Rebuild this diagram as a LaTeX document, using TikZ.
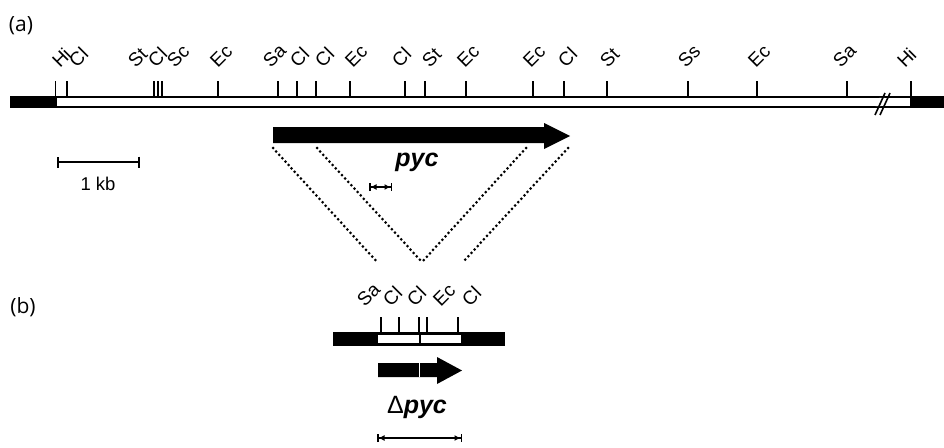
\documentclass[tikz,border=0pt]{standalone}
\usepackage{fontspec}
\setmainfont{Liberation Sans}
\newfontfamily\panelfont{Open Sans}
\usetikzlibrary{arrows.meta}
\begin{document}
\begin{tikzpicture}[x=1pt,y=-1pt,
  site/.style={font=\fontsize{19}{21}\selectfont, rotate=45, anchor=south west, inner sep=0pt},
  tickmark/.style={line width=1.8pt},
  outline/.style={line width=1.8pt},
  dots/.style={line width=3pt, line cap=round, dash pattern=on 0pt off 4.6pt},
  panel/.style={font=\panelfont\fontsize{21}{24}\selectfont, inner sep=0pt},
  genename/.style={font=\fontsize{25}{30}\selectfont, inner sep=0pt},
  span/.style={line width=1.5pt, {Bar[width=8pt]Latex[length=6pt,width=6pt]}-{Latex[length=6pt,width=6pt]Bar[width=8pt]}}]
\useasboundingbox (0,0) rectangle (944,447);

% panel letters
\node[panel] (pa) at (21,26) {(a)};
\node[panel] (pb) at (23,307) {(b)};

% ---------- (a) restriction map of the genomic region ----------
\fill (10,96) rectangle (56,108);
\draw[outline, fill=white] (56,96.9) rectangle (911,107.1);
\fill (911,96) rectangle (944,108);
% break in the map
\fill[white] (875.5,106.2) -- (880.5,106.2) -- (884.5,97.8) -- (879.5,97.8) -- cycle;
\draw[line width=1.6pt] (875,115) -- (885,93);
\draw[line width=1.6pt] (880,115) -- (890,93);

% restriction sites: tick position / label position / enzyme
\foreach \t/\l/\e [count=\i] in {55.5/58/Hi, 67/75/Cl, 154/134/St, 158/154/Cl, 162/173/Sc,
    218/216/Ec, 278/269/Sa, 297/296/Cl, 316/321/Cl, 350/351/Ec, 405/398/Cl, 425/428/St,
    466/463/Ec, 533/529/Ec, 564/564/Cl, 607/606/St, 688/684/Ss, 757/754/Ec, 847/839/Sa, 911/903/Hi}{
  \draw[tickmark] (\t,81) -- (\t,96.5);
  \node[site] (sa\i) at (\l+2,69) {\e};
}

% pyc gene arrow
\coordinate (g1) at (273,148);
\coordinate (g2) at (317,148);
\coordinate (g3) at (526,148);
\coordinate (g4) at (568,148);
\fill (273,127) -- (544,127) -- (544,123) -- (570,136) -- (544,149) -- (544,143) -- (273,143) -- cycle;
\node[genename] (pyc) at (417,162.5) {\bfseries\itshape pyc};
\draw[span] (369,187) coordinate (da1) -- (392,187) coordinate (da2);

% scale bar
\draw[line width=1.9pt, {Bar[width=11pt]}-{Bar[width=11pt]}] (57,162) coordinate (sb1) -- (140,162) coordinate (sb2);
\node[font=\fontsize{18.5}{22}\selectfont, inner sep=0pt] (kb) at (98,184) {1 kb};

% dotted lines to the deletion construct
\coordinate (d1) at (378,263);
\coordinate (d2) at (422,262);
\coordinate (d3) at (463,262);
\draw[dots] (g1) -- (d1);
\draw[dots] (g2) -- (d2);
\draw[dots] (g3) -- (d2);
\draw[dots] (g4) -- (d3);

% ---------- (b) deletion construct ----------
\fill (333,332) rectangle (505,346);
\fill[white] (378,335) rectangle (419,343);
\fill[white] (421,335) rectangle (461,343);
\foreach \t/\l/\e [count=\i] in {381/363/Sa, 399/389/Cl, 419/413/Cl, 427/439/Ec, 458/468/Cl}{
  \draw[tickmark] (\t,317) -- (\t,332.5);
  \node[site] (sb\i) at (\l+2,308) {\e};
}
\fill (378,363) -- (437,363) -- (437,357) -- (462,370.5) -- (437,384) -- (437,377) -- (378,377) -- cycle;
\draw[white, line width=0.8pt] (419,363) -- (419,377);
\node[genename] (dpyc) at (417,407) {Δ\bfseries\itshape pyc};
\draw[span] (377,438) coordinate (db1) -- (462,438) coordinate (db2);
\end{tikzpicture}
\end{document}
